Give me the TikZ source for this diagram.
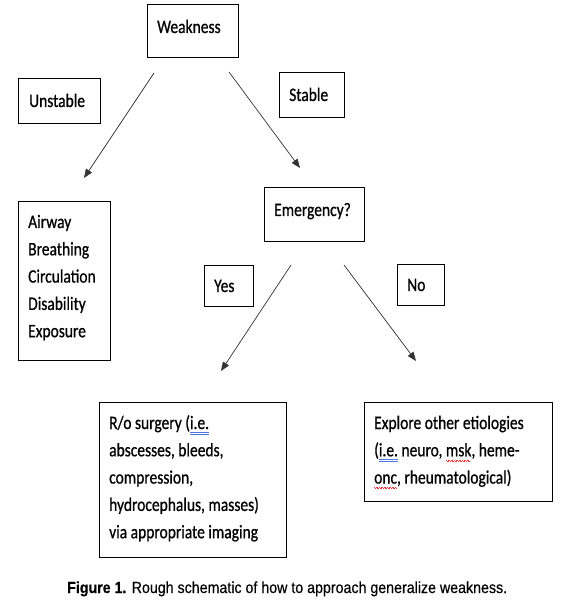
\documentclass[tikz,border=0pt]{standalone}
\usepackage{fontspec}
\usepackage{graphicx}
\usetikzlibrary{arrows.meta}
\newfontfamily\boxfont[FakeStretch=0.816,FakeBold=0.7]{Carlito}
\newfontfamily\capfont[FakeBold=0.4]{Liberation Sans}
\definecolor{gblue}{RGB}{80,120,225}
\definecolor{sred}{RGB}{225,60,60}
\newcommand\mylines[1]{\vtop{\baselineskip=27.3pt\lineskiplimit=-\maxdimen #1}}
\newcommand\gramu[1]{\setbox0\hbox{#1}\rlap{\color{gblue}\rule[-3.6pt]{\wd0}{0.7pt}}\rlap{\color{gblue}\rule[-5.8pt]{\wd0}{0.7pt}}\box0\relax}
\newcommand\spellu[1]{\setbox0\hbox{#1}\rlap{\color{sred}\leaders\hbox{\rule[-4.2pt]{0.8pt}{0.6pt}\rule[-5pt]{0.8pt}{0.6pt}}\hskip\wd0}\box0\relax}
\begin{document}
\begin{tikzpicture}[x=1pt,y=-1pt,
  box/.style={draw=black,line width=0.8pt,inner sep=0pt,anchor=north west},
  txt/.style={inner sep=0pt,anchor=base west,font=\boxfont\fontsize{19pt}{27.3pt}\selectfont},
  arr/.style={draw=black!80,line width=0.7pt,-{Triangle[length=9pt,width=7pt]}}]
\useasboundingbox (0,0) rectangle (561,601);
% boxes
\node[box,minimum width=91pt,minimum height=53pt] (weak) at (147,4) {};
\node[box,minimum width=82pt,minimum height=45pt] (unst) at (18,78) {};
\node[box,minimum width=65pt,minimum height=45pt] (stab) at (279,72) {};
\node[box,minimum width=100pt,minimum height=54pt] (emer) at (264,187) {};
\node[box,minimum width=92pt,minimum height=159pt] (abc) at (18,201) {};
\node[box,minimum width=49pt,minimum height=41pt] (yes) at (204,265) {};
\node[box,minimum width=47pt,minimum height=41pt] (no) at (397,264) {};
\node[box,minimum width=187pt,minimum height=155pt] (ro) at (99,402) {};
\node[box,minimum width=188pt,minimum height=99pt] (expl) at (364,402) {};
% texts
\node[txt] (weakT) at (157,33) {Weakness};
\node[txt] (unstT) at (29,107) {Unstable};
\node[txt] (stabT) at (289,101) {Stable};
\node[txt] (emerT) at (274,216) {Emergency?};
\node[txt] (yesT) at (214,292) {Yes};
\node[txt] (noT) at (407,291) {No};
\node[txt] (abcT) at (28,228) {\mylines{\hbox{Airway}\hbox{Breathing}\hbox{Circulation}\hbox{Disability}\hbox{Exposure}}};
\node[txt] (roT) at (109,429) {\mylines{\hbox{R/o surgery (\gramu{i.e.}}\hbox{abscesses, bleeds,}\hbox{compression,}\hbox{hydrocephalus, masses)}\hbox{via appropriate imaging}}};
\node[txt] (explT) at (374,429) {\mylines{\hbox{Explore other etiologies}\hbox{(\gramu{i.e.} neuro, \spellu{msk}, heme-}\hbox{\spellu{onc}, rheumatological)}}};
% connectors
\coordinate (w1) at (154,73);
\coordinate (w2) at (229,72);
\coordinate (e1) at (291,265);
\coordinate (e2) at (344,265);
\coordinate (t1) at (84,178);
\coordinate (t2) at (300,168);
\coordinate (t3) at (221,371);
\coordinate (t4) at (416,361);
\draw[arr] (w1) -- (t1);
\draw[arr] (w2) -- (t2);
\draw[arr] (e1) -- (t3);
\draw[arr] (e2) -- (t4);
% caption
\node[inner sep=0pt,anchor=base west] (cap) at (67,593) {\resizebox{440pt}{\height}{\capfont\fontsize{16pt}{18pt}\selectfont\textbf{Figure 1.} Rough schematic of how to approach generalize weakness.}};
\end{tikzpicture}
\end{document}
